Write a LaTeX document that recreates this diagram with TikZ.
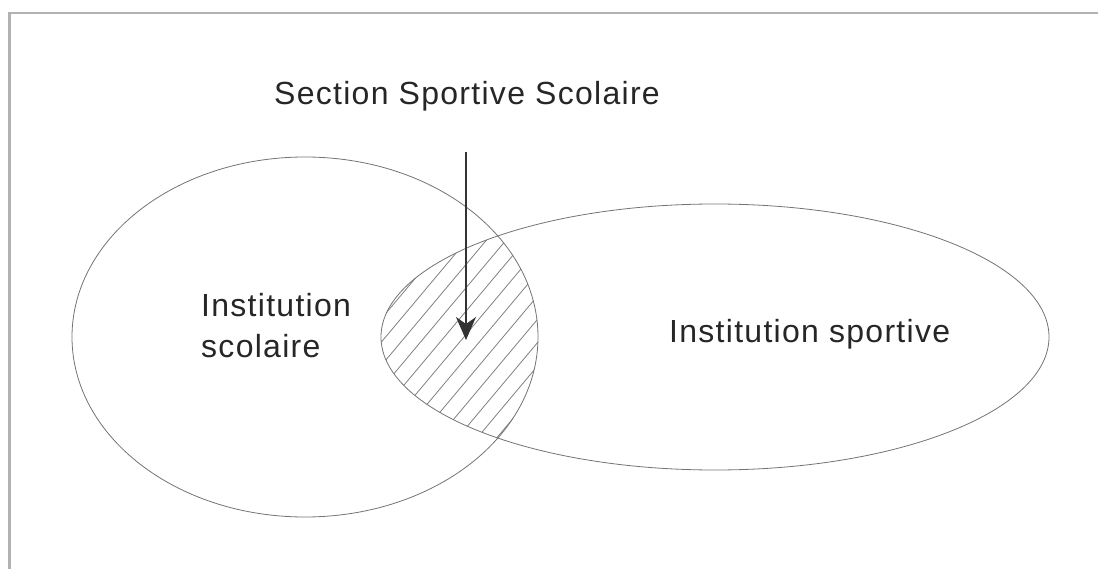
\documentclass[tikz,border=0pt]{standalone}
\usepackage{fontspec}
\setmainfont{Liberation Sans}
\newfontfamily\spacedfont[LetterSpace=4]{Liberation Sans}
\usepackage{tikz}
\usetikzlibrary{arrows.meta,calc}

\begin{document}
\begin{tikzpicture}[x=1pt, y=-1pt,
    label/.style={inner sep=0pt, text=black!85, font=\spacedfont\fontsize{32}{41}\selectfont},
    setline/.style={draw=black!55, line width=0.8pt},
    hatch/.style={draw=black!50, line width=0.8pt},
    pointer/.style={draw=black!80, line width=1.3pt, -{Stealth[length=23pt, width=20pt, inset=7pt]}},
    frame/.style={draw=black!30, line width=2.2pt}]

    \useasboundingbox (0,0) rectangle (1098,569);

    % frame (cut off right and bottom)
    \draw[frame] (9.5,569) |- (1098,13);

    % hatched intersection
    \begin{scope}
        \clip (305,337) ellipse [x radius=233, y radius=180];
        \clip (715,337) ellipse [x radius=334, y radius=133];
        \begin{scope}[shift={(460,337)}, rotate=50]
            \foreach \k in {-7,...,7}
                \draw[hatch] (-250,\k*15+3) -- (250,\k*15+3);
        \end{scope}
    \end{scope}

    % the two sets
    \draw[setline] (305,337) ellipse [x radius=233, y radius=180];
    \draw[setline] (715,337) ellipse [x radius=334, y radius=133];

    % labels
    \node[label, anchor=base] (section) at (467,105) {Section Sportive Scolaire};
    \node[label, anchor=base west, align=left] (scolaire) at (201,358) {Institution\\scolaire};
    \node[label, anchor=base west] (sportive) at (669,342) {Institution sportive};

    % arrow into the intersection
    \coordinate (tip) at (466,340);
    \draw[pointer, shorten <=40pt] (section.south -| tip) -- (tip);

\end{tikzpicture}
\end{document}
